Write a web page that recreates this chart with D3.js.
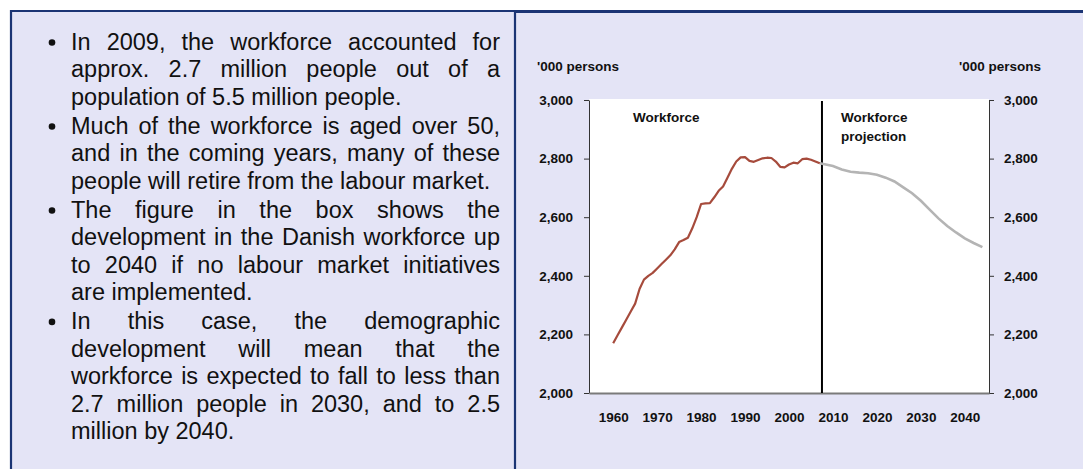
<!DOCTYPE html>
<html>
<head>
<meta charset="utf-8">
<script src="https://cdn.jsdelivr.net/npm/d3@7"></script>
<style>
  body { margin: 0; background: #fff; }
  svg { display: block; font-family: "Liberation Sans", Arial, sans-serif; }
</style>
</head>
<body>
<div id="chart"></div>
<script>

// --> DATA

var bullets = [
    ["In 2009, the workforce accounted for",
     "approx. 2.7 million people out of a",
     "population of 5.5 million people."],
    ["Much of the workforce is aged over 50,",
     "and in the coming years, many of these",
     "people will retire from the labour market."],
    ["The figure in the box shows the",
     "development in the Danish workforce up",
     "to 2040 if no labour market initiatives",
     "are implemented."],
    ["In this case, the demographic",
     "development will mean that the",
     "workforce is expected to fall to less than",
     "2.7 million people in 2030, and to 2.5",
     "million by 2040."]
];

var histYears = [1960, 1961, 1962, 1963, 1964, 1965, 1966, 1967, 1968, 1969,
    1970, 1971, 1972, 1973, 1974, 1975, 1976, 1977, 1978, 1979,
    1980, 1981, 1982, 1983, 1984, 1985, 1986, 1987, 1988, 1989,
    1990, 1991, 1992, 1993, 1994, 1995, 1996, 1997, 1998, 1999,
    2000, 2001, 2002, 2003, 2004, 2005, 2006, 2007];
var histValues = [2170, 2197, 2224, 2251, 2278, 2305, 2355, 2387, 2400, 2410,
    2425, 2440, 2455, 2470, 2490, 2515, 2522, 2530, 2562, 2600,
    2645, 2647, 2648, 2668, 2690, 2705, 2735, 2765, 2790, 2804,
    2805, 2792, 2789, 2795, 2801, 2803, 2802, 2790, 2772, 2770,
    2780, 2786, 2784, 2798, 2800, 2796, 2790, 2784];

var projYears = [2007, 2010, 2012, 2014, 2016, 2018, 2020, 2022, 2024, 2026,
    2028, 2030, 2032, 2034, 2036, 2038, 2040, 2042, 2044];
var projValues = [2784, 2775, 2763, 2755, 2752, 2750, 2745, 2735, 2722, 2702,
    2682, 2656, 2626, 2596, 2570, 2548, 2528, 2512, 2498];

var xTicks = [1960, 1970, 1980, 1990, 2000, 2010, 2020, 2030, 2040];
var yTicks = [2000, 2200, 2400, 2600, 2800, 3000];
var projectionStart = 2007.5;
var unitLabel = "'000 persons";
var histLabel = ["Workforce"];
var projLabel = ["Workforce", "projection"];

// --> CREATE SVG DRAWING AREA

var width = 1083,
    height = 469;

var bg = '#e4e4f6';
var navy = '#1b3474';

var svg = d3.select("#chart").append("svg")
    .attr("width", width)
    .attr("height", height);

svg.append("rect")
    .attr("x", 11).attr("y", 11)
    .attr("width", width - 11).attr("height", height - 11)
    .attr("fill", bg);

// borders
svg.append("line")
    .attr("x1", 10).attr("x2", 515).attr("y1", 11).attr("y2", 11)
    .attr("stroke", navy).attr("stroke-width", 2.2);
svg.append("line")
    .attr("x1", 515).attr("x2", width).attr("y1", 11.5).attr("y2", 11.5)
    .attr("stroke", navy).attr("stroke-width", 3);
svg.append("line")
    .attr("x1", 11).attr("x2", 11).attr("y1", 10).attr("y2", height)
    .attr("stroke", navy).attr("stroke-width", 2.2);
svg.append("line")
    .attr("x1", 515).attr("x2", 515).attr("y1", 10).attr("y2", height)
    .attr("stroke", navy).attr("stroke-width", 2.2);

// --> BULLET TEXT (justified lines)

var textLeft = 71,
    textRight = 500,
    fontSize = 23.5,
    lineStep = 27.4,
    paraGap = 29.2;

var baseline = 50;
var textG = svg.append("g")
    .style("font-size", fontSize + "px")
    .attr("fill", "#111");

bullets.forEach(function (para) {
    textG.append("circle")
        .attr("cx", 52)
        .attr("cy", baseline - 7.5)
        .attr("r", 3.3)
        .attr("fill", "#111");

    para.forEach(function (line, i) {
        var t = textG.append("text")
            .attr("x", textLeft)
            .attr("y", baseline)
            .style("white-space", "pre")
            .text(line);

        if (i < para.length - 1) {
            var spaces = line.split(" ").length - 1;
            var len = t.node().getComputedTextLength();
            if (spaces > 0) {
                t.attr("word-spacing", (textRight - textLeft - len) / spaces);
            }
        }
        if (i < para.length - 1) baseline += lineStep;
    });
    baseline += paraGap;
});

// --> CHART

var x = d3.scaleLinear()
    .domain([1954.5, 2045.5])
    .range([589, 989]);

var y = d3.scaleLinear()
    .domain([2000, 3000])
    .range([393, 100]);

var chart = svg.append("g")
    .style("font-size", "13.5px")
    .style("font-weight", "bold");

chart.append("rect")
    .attr("x", x.range()[0]).attr("y", y(3000) - 1)
    .attr("width", x.range()[1] - x.range()[0])
    .attr("height", y(2000) - y(3000) + 1)
    .attr("fill", "#fff");

var fmt = d3.format(",");

var leftAxis = chart.append("g")
    .attr("transform", "translate(" + x.range()[0] + ",0)")
    .call(d3.axisLeft(y).tickValues(yTicks).tickFormat(fmt)
        .tickSize(5).tickSizeOuter(0).tickPadding(11));

var rightAxis = chart.append("g")
    .attr("transform", "translate(" + x.range()[1] + ",0)")
    .call(d3.axisRight(y).tickValues(yTicks).tickFormat(fmt)
        .tickSize(5).tickSizeOuter(0).tickPadding(10));

var bottomAxis = chart.append("g")
    .attr("transform", "translate(0," + y(2000) + ")")
    .call(d3.axisBottom(x).tickValues(xTicks).tickFormat(d3.format("d"))
        .tickSize(0).tickSizeOuter(0).tickPadding(19));

[leftAxis, rightAxis, bottomAxis].forEach(function (a) {
    a.attr("font-size", null).attr("font-family", null);
    a.selectAll("text").attr("fill", "#111");
    a.selectAll("line").attr("stroke", "#333");
    a.select(".domain").attr("stroke", "#333");
});
bottomAxis.select(".domain")
    .attr("stroke", "#7a7a7a")
    .attr("stroke-width", 2);

// projection divider
chart.append("line")
    .attr("x1", x(projectionStart)).attr("x2", x(projectionStart))
    .attr("y1", y(3000) + 1).attr("y2", y(2000))
    .attr("stroke", "#000")
    .attr("stroke-width", 2);

var line = d3.line()
    .x(function (d) { return x(d[0]); })
    .y(function (d) { return y(d[1]); });

chart.append("path")
    .datum(d3.zip(projYears, projValues))
    .attr("d", line)
    .attr("fill", "none")
    .attr("stroke", "#b4b4b4")
    .attr("stroke-width", 2.6);

chart.append("path")
    .datum(d3.zip(histYears, histValues))
    .attr("d", line)
    .attr("fill", "none")
    .attr("stroke", "#a64b3c")
    .attr("stroke-width", 2.2)
    .attr("stroke-linejoin", "round");

// labels
chart.append("text")
    .attr("x", 537).attr("y", 71)
    .attr("fill", "#111")
    .text(unitLabel);

chart.append("text")
    .attr("x", 1041).attr("y", 71)
    .attr("text-anchor", "end")
    .attr("fill", "#111")
    .text(unitLabel);

chart.selectAll(".hist-label")
    .data(histLabel)
    .enter().append("text")
    .attr("class", "hist-label")
    .attr("x", 633)
    .attr("y", function (d, i) { return 121.5 + i * 19; })
    .attr("fill", "#111")
    .text(function (d) { return d; });

chart.selectAll(".proj-label")
    .data(projLabel)
    .enter().append("text")
    .attr("class", "proj-label")
    .attr("x", 841)
    .attr("y", function (d, i) { return 121.5 + i * 19; })
    .attr("fill", "#111")
    .text(function (d) { return d; });

</script>
</body>
</html>
